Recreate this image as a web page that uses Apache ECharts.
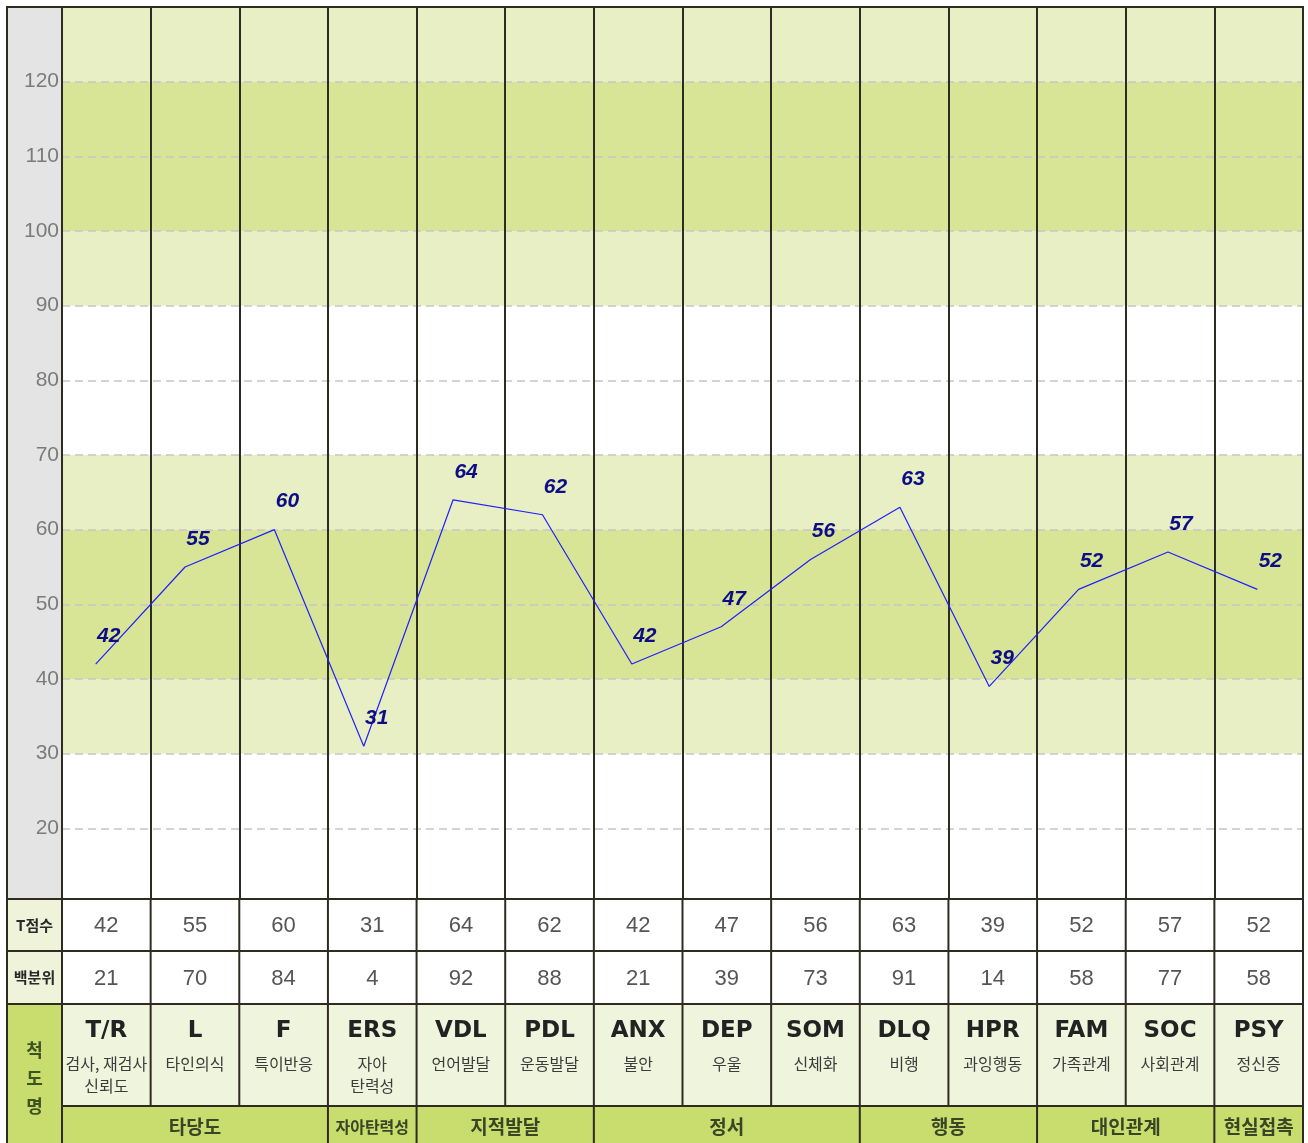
<!DOCTYPE html>
<html><head><meta charset="utf-8">
<script src="https://cdn.jsdelivr.net/npm/echarts@6/dist/echarts.min.js"></script>
<style>html,body{margin:0;padding:0;background:#fff}#c{width:1308px;height:1143px}</style>
</head><body><div id="c"></div>
<script>
const codes = ['T/R','L','F','ERS','VDL','PDL','ANX','DEP','SOM','DLQ','HPR','FAM','SOC','PSY'];
const subNames = ['검사, 재검사\n신뢰도','타인의식','특이반응','자아\n탄력성','언어발달','운동발달','불안','우울','신체화','비행','과잉행동','가족관계','사회관계','정신증'];
const tScores = [42,55,60,31,64,62,42,47,56,63,39,52,57,52];
const percentiles = [21,70,84,4,92,88,21,39,73,91,14,58,77,58];
const groupNames = ['타당도','자아탄력성','지적발달','정서','행동','대인관계','현실접촉'];
const groupSpans = [3,1,2,3,2,2,1];
const yTickLabels = [20,30,40,50,60,70,80,90,100,110,120];
const lightBands = [[30,40],[60,70],[90,100],[120,130]];
const darkBands = [[40,60],[100,120]];
const rowLabels = ['T점수','백분위'];
const sideLabel = '척\n도\n명';

const LIGHT = '#e8efc5', DARK = '#d8e597', GROUPG = '#c9dd6f', CELLG = '#eff4dc', LINEC = '#2f2a22';
const chart = echarts.init(document.getElementById('c'), null, {renderer: 'canvas'});
const mk = (bands, color) => bands.map(b => [{yAxis: b[0], itemStyle: {color: color}}, {yAxis: b[1]}]);

const option = {
  animation: false,
  grid: [
    {left: 62, top: 7, width: 1241, height: 896},
    {left: 51, top: 7, width: 1251, height: 896}
  ],
  xAxis: [
    {type: 'category', gridIndex: 0, data: codes, boundaryGap: true, z: 3,
     axisLine: {show: false}, axisTick: {show: false}, axisLabel: {show: false},
     splitLine: {show: true, interval: 0, lineStyle: {color: LINEC, width: 2}}},
    {type: 'category', gridIndex: 1, data: codes, boundaryGap: true, show: false}
  ],
  yAxis: [
    {type: 'value', gridIndex: 0, min: 10, max: 130, interval: 10, z: 2,
     axisLine: {show: false}, axisTick: {show: false},
     axisLabel: {margin: 3, color: '#7b7b7b', fontSize: 21, fontFamily: '"Liberation Sans", Arial',
       formatter: v => yTickLabels.includes(v) ? String(v) : ''},
     splitLine: {show: true, lineStyle: {color: '#c6c6c6', type: [8, 5], width: 1.5}}},
    {type: 'value', gridIndex: 1, min: 10, max: 130, interval: 10, show: false}
  ],
  series: [
    {type: 'line', xAxisIndex: 0, yAxisIndex: 0, data: [], z: 0, silent: true,
     markArea: {silent: true, z: 0, itemStyle: {opacity: 1}, label: {show: false},
       data: [...mk(lightBands, LIGHT), ...mk(darkBands, DARK)]}},
    {type: 'line', xAxisIndex: 1, yAxisIndex: 1, data: tScores, z: 10,
     symbol: 'circle', symbolSize: 1, itemStyle: {color: 'rgba(0,0,0,0)'},
     lineStyle: {color: '#1f1fff', width: 1.2},
     label: {show: true, position: 'top', distance: 5, offset: [13, -12],
       color: '#0d0d85', fontSize: 21, fontWeight: 'bold', fontStyle: 'italic',
       fontFamily: '"Liberation Sans", Arial'}}
  ]
};
chart.setOption(option);

// table built from the category scale
const cx = i => chart.convertToPixel({xAxisIndex: 0}, i);
const colW = cx(1) - cx(0);
const L = cx(0) - colW / 2;
const R = L + codes.length * colW;
const X0 = 7, TOP = 7;
const r1 = 899, r2 = 951, r3 = 1004, r4 = 1106, r5 = 1145;

const els = [];
const rect = (x, y, w, h, fill, z) => els.push({type: 'rect', z: z == null ? 100 : z, silent: true, shape: {x, y, width: w, height: h}, style: {fill}});
const line = (x1, y1, x2, y2) => els.push({type: 'line', z: 120, silent: true, shape: {x1, y1, x2, y2}, style: {stroke: LINEC, lineWidth: 2}});
const text = (t, x, y, font, fill, va, lh) => els.push({type: 'text', z: 130, silent: true, x: x, y: y,
  style: {text: t, font: font, fill: fill, align: 'center', textAlign: 'center', verticalAlign: va || 'middle', textVerticalAlign: va || 'middle', lineHeight: lh || undefined}});

// y label column background
rect(X0, TOP, L - X0, r1 - TOP, '#e4e4e4', -10);
// table backgrounds
rect(X0, r1, R - X0, r5 - r1, '#ffffff');
rect(X0, r1, L - X0, r2 - r1, '#eef3da');
rect(X0, r2, L - X0, r3 - r2, '#eef3da');
rect(X0, r3, L - X0, r5 - r3, GROUPG);
rect(L, r3, R - L, r4 - r3, CELLG);
rect(L, r4, R - L, r5 - r4, GROUPG);

// row labels
text(rowLabels[0], (X0 + L) / 2, (r1 + r2) / 2, 'bold 15px "Noto Sans CJK KR"', '#2a2a2a');
text(rowLabels[1], (X0 + L) / 2, (r2 + r3) / 2, 'bold 15px "Noto Sans CJK KR"', '#2a2a2a');
text(sideLabel, (X0 + L) / 2, 1078, 'bold 18px "Noto Sans CJK KR"', '#3f5222', 'middle', 28);

codes.forEach((c, i) => {
  const x = cx(i);
  text(String(tScores[i]), x, (r1 + r2) / 2 + 1, '22px "Liberation Sans", Arial', '#555555');
  text(String(percentiles[i]), x, (r2 + r3) / 2 + 1, '22px "Liberation Sans", Arial', '#555555');
  text(c, x, 1031, 'bold 23px "DejaVu Sans"', '#222222');
  text(subNames[i], x, 1053, '16px "Noto Sans CJK KR"', '#3c3c3c', 'top', 22);
});

// groups
let start = 0;
groupNames.forEach((g, k) => {
  const span = groupSpans[k];
  const gx1 = L + start * colW, gx2 = L + (start + span) * colW;
  const fs = Math.min(19, Math.floor((gx2 - gx1 - 6) / g.length));
  text(g, (gx1 + gx2) / 2, 1127, 'bold ' + fs + 'px "Noto Sans CJK KR"', '#3a4526');
  start += span;
  if (start < codes.length) line(gx2, r4, gx2, r5);
});

// table grid lines
line(X0, r1, R, r1);
line(X0, r2, R, r2);
line(X0, r3, R, r3);
line(L, r4, R, r4);
for (let i = 1; i < codes.length; i++) {
  const bx = L + i * colW;
  line(bx, r1, bx, r4);
}
// frame
line(X0 - 1, TOP, R + 1, TOP);
line(X0, TOP, X0, r5);
line(L, TOP, L, r5);
line(R, TOP, R, r5);

chart.setOption({graphic: {elements: els}});
</script>
</body></html>
